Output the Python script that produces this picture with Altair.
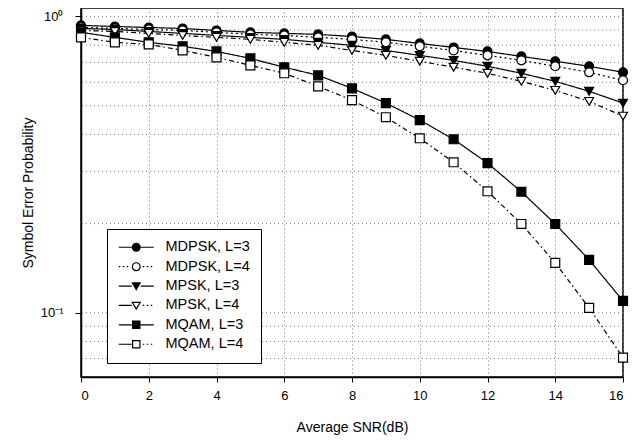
import altair as alt
import pandas as pd

snr = list(range(17))
series_names = ["MDPSK, L=3", "MDPSK, L=4", "MPSK, L=3", "MPSK, L=4", "MQAM, L=3", "MQAM, L=4"]

mdpsk_l3 = [0.933, 0.925, 0.918, 0.911, 0.897, 0.884, 0.877, 0.870, 0.856, 0.837, 0.811, 0.786, 0.762, 0.733, 0.706, 0.679, 0.648]
mdpsk_l4 = [0.918, 0.911, 0.904, 0.897, 0.884, 0.870, 0.863, 0.850, 0.837, 0.818, 0.793, 0.768, 0.739, 0.711, 0.679, 0.648, 0.609]
mpsk_l3 = [0.911, 0.904, 0.890, 0.877, 0.863, 0.850, 0.837, 0.818, 0.799, 0.768, 0.739, 0.711, 0.679, 0.643, 0.604, 0.559, 0.510]
mpsk_l4 = [0.897, 0.890, 0.877, 0.863, 0.850, 0.837, 0.818, 0.799, 0.768, 0.739, 0.706, 0.674, 0.643, 0.604, 0.563, 0.517, 0.461]
mqam_l3 = [0.884, 0.850, 0.818, 0.793, 0.762, 0.722, 0.674, 0.633, 0.572, 0.510, 0.447, 0.385, 0.320, 0.256, 0.1994, 0.1509, 0.1097]
mqam_l4 = [0.850, 0.818, 0.805, 0.768, 0.728, 0.684, 0.643, 0.581, 0.522, 0.457, 0.388, 0.322, 0.257, 0.1994, 0.1474, 0.1039, 0.0706]

grid_values = [0.07, 0.08, 0.09, 0.1, 0.2, 0.3, 0.4, 0.5, 0.6, 0.7, 0.8, 0.9, 1.0]
y_ticks = [0.1, 1.0]
x_ticks = [0, 2, 4, 6, 8, 10, 12, 14, 16]

rows = []
for name, vals in zip(series_names, [mdpsk_l3, mdpsk_l4, mpsk_l3, mpsk_l4, mqam_l3, mqam_l4]):
    for x, v in zip(snr, vals):
        rows.append({"snr": x, "ser": v, "series": name})
df = pd.DataFrame(rows)
grid_df = pd.DataFrame({"g": grid_values})

FONT = "Liberation Sans"

xscale = alt.Scale(domain=[0, 16], nice=False, zero=False)
yscale = alt.Scale(type="log", domain=[0.0607, 1.068], nice=False)

xaxis = alt.Axis(values=x_ticks, format="d", grid=True, gridDash=[1, 3], gridColor="#777777",
                 tickSize=5, labelPadding=7, titlePadding=18, title="Average SNR(dB)")
yaxis = alt.Axis(values=y_ticks, grid=False, tickSize=6, labelPadding=12, titlePadding=5,
                 labelExpr="datum.value >= 0.99 ? '10⁰' : '10⁻¹'", title="Symbol Error Probability")

X = alt.X("snr:Q", scale=xscale, axis=xaxis)
Y = alt.Y("ser:Q", scale=yscale, axis=yaxis)

grid = alt.Chart(grid_df).mark_rule(strokeDash=[1, 3], color="#777777", strokeWidth=1).encode(
    y=alt.Y("g:Q", scale=yscale, axis=yaxis)
)

dashes = [[1, 0], [2, 3], [1, 0], [5, 3, 1.5, 3], [1, 0], [5, 3, 1.5, 3]]
lines = alt.Chart(df).mark_line(color="black", strokeWidth=1.2).encode(
    x=X, y=Y,
    detail="series:N",
    strokeDash=alt.StrokeDash("series:N", scale=alt.Scale(domain=series_names, range=dashes), legend=None),
)

fills = ["black", "white", "black", "white", "black", "white"]
shapes = ["circle", "circle", "triangle-down", "triangle-down", "square", "square"]
points = alt.Chart(df).mark_point(stroke="black", strokeWidth=1.2, size=80, opacity=1).encode(
    x=X, y=Y,
    shape=alt.Shape("series:N", scale=alt.Scale(domain=series_names, range=shapes), legend=None),
    fill=alt.Fill("series:N", scale=alt.Scale(domain=series_names, range=fills), legend=None),
)

# legend glyphs drawn as filled outlines (line + marker), unit = sqrt(size)/2 px
solid_l = "M-3.5,-0.12H-0.9V0.12H-3.5Z"
solid_r = "M0.9,-0.12H3.5V0.12H0.9Z"
dots_l = "M-3.5,-0.12h0.3v0.24h-0.3ZM-2.7,-0.12h0.3v0.24h-0.3ZM-1.9,-0.12h0.3v0.24h-0.3Z"
dots_r = "M1.3,-0.12h0.3v0.24h-0.3ZM2.1,-0.12h0.3v0.24h-0.3ZM2.9,-0.12h0.3v0.24h-0.3Z"
circ_out = "M0.9,0A0.9,0.9,0,1,1,-0.9,0A0.9,0.9,0,1,1,0.9,0Z"
circ_in = "M0.66,0A0.66,0.66,0,1,0,-0.66,0A0.66,0.66,0,1,0,0.66,0Z"
tri_out = "M-1,-0.75L1,-0.75L0,0.95Z"
tri_in = "M-0.58,-0.51L0,0.476L0.58,-0.51Z"
sq_out = "M-0.85,-0.85H0.85V0.85H-0.85Z"
sq_in = "M-0.61,-0.61V0.61H0.61V-0.61Z"
legend_paths = [
    solid_l + solid_r + circ_out,
    dots_l + dots_r + circ_out + circ_in,
    solid_l + solid_r + tri_out,
    solid_l + dots_r + tri_out + tri_in,
    solid_l + solid_r + sq_out,
    solid_l + dots_r + sq_out + sq_in,
]
legend_fills = ["black"] * 6

leg = alt.Legend(title=None, orient="none", legendX=26, legendY=221, padding=11,
                 strokeColor="black", fillColor="white", symbolSize=100, symbolOffset=11,
                 labelOffset=22, rowPadding=3.4, labelFontSize=14.5, labelFont=FONT,
                 labelColor="black", symbolOpacity=1)

legend_layer = alt.Chart(df).transform_filter("false").mark_point(
    size=100, opacity=1, filled=True, strokeWidth=0
).encode(
    x=X, y=Y,
    shape=alt.Shape("series:N", scale=alt.Scale(domain=series_names, range=legend_paths), legend=leg),
    fill=alt.Fill("series:N", scale=alt.Scale(domain=series_names, range=legend_fills), legend=leg),
)

chart = alt.layer(grid, lines, points, legend_layer).resolve_scale(
    shape="independent", fill="independent"
).properties(
    width=542, height=369,
    autosize=alt.AutoSizeParams(type="none"),
    padding={"left": 73, "top": 0, "right": 12, "bottom": 61},
    background="white",
).configure_view(
    stroke="black", strokeWidth=1.5
).configure_axis(
    domainColor="black", domainWidth=1.5, tickColor="black", tickWidth=1,
    labelFont=FONT, labelFontSize=13, labelColor="black",
    titleFont=FONT, titleFontSize=14, titleFontWeight="normal", titleColor="black",
)

chart.save("out.html", embed_options={"renderer": "svg", "actions": False})
